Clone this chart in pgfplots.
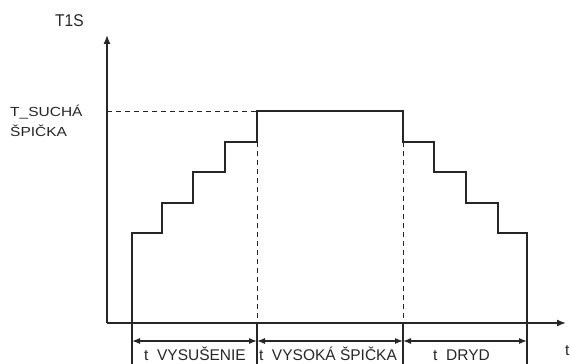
\documentclass[border=0pt]{standalone}
\usepackage{pgfplots}
\pgfplotsset{compat=1.18}
\usetikzlibrary{arrows.meta}
\usepackage{fontspec}
\setmainfont{Liberation Sans}
\definecolor{ink}{HTML}{262626}
\tikzset{lbl/.style={ink, inner sep=0pt, font=\fontsize{15.5}{18}\selectfont}}

\begin{document}
\begin{tikzpicture}
    \begin{axis}[
        scale only axis,
        width=571pt, height=364pt,
        xmin=-107, xmax=464,
        ymin=-41, ymax=323,
        hide axis,
        clip=false,
    ]
    % corners of the picture
    \coordinate (bl) at (axis cs:-107,-41);
    \coordinate (tr) at (axis cs:464,323);

    % axes
    \addplot[ink, line width=1.4pt, -{Latex[length=9pt,width=7pt]}] coordinates {(0,0) (0,288)};
    \addplot[ink, line width=1.4pt, -{Latex[length=9pt,width=7pt]}] coordinates {(0,0) (459,0)};

    % temperature profile
    \addplot[ink, line width=1.3pt] coordinates {
        (25,-41) (25,90) (55,90) (55,120) (86,120) (86,151) (118,151) (118,181)
        (150,181) (150,212) (296,212) (296,181) (327,181) (327,151) (359,151)
        (359,120) (391,120) (391,90) (420,90) (420,-41)
    };

    % guide lines
    \addplot[ink, line width=0.8pt, dash pattern=on 5pt off 4pt] coordinates {(0,212) (150,212)};
    \addplot[ink, line width=0.8pt, dash pattern=on 5pt off 4pt] coordinates {(150,181) (150,0)};
    \addplot[ink, line width=0.8pt, dash pattern=on 5pt off 4pt] coordinates {(296,181) (296,0)};
    \addplot[ink, line width=1.1pt] coordinates {(150,0) (150,-41)};
    \addplot[ink, line width=1.1pt] coordinates {(296,0) (296,-41)};

    % interval arrows
    \addplot[ink, line width=1.1pt, {Latex[length=8pt,width=6pt]}-{Latex[length=8pt,width=6pt]}] coordinates {(25,-18) (150,-18)};
    \addplot[ink, line width=1.1pt, {Latex[length=8pt,width=6pt]}-{Latex[length=8pt,width=6pt]}] coordinates {(150,-18) (296,-18)};
    \addplot[ink, line width=1.1pt, {Latex[length=8pt,width=6pt]}-{Latex[length=8pt,width=6pt]}] coordinates {(296,-18) (420,-18)};

    % labels
    \node[lbl, anchor=base west] at (axis cs:-52,296) {\scalebox{1}[1.1]{T1S}};
    \node[lbl, anchor=base west] at (axis cs:-97,206) {\scalebox{1}[0.85]{T\_SUCHÁ}};
    \node[lbl, anchor=base west] at (axis cs:-97,186) {\scalebox{1}[0.85]{ŠPIČKA}};
    \node[lbl, anchor=base] at (axis cs:88,-37.5) {t\ \ VYSUŠENIE};
    \node[lbl, anchor=base] at (axis cs:221,-37.5) {t\ \ VYSOKÁ ŠPIČKA};
    \node[lbl, anchor=base] at (axis cs:354.5,-37.5) {t\ \ DRYD};
    \node[lbl, anchor=base west] at (axis cs:458,-33) {t};
    \end{axis}
    \pgfresetboundingbox
    \path[use as bounding box] (bl) rectangle (tr);
\end{tikzpicture}
\end{document}
